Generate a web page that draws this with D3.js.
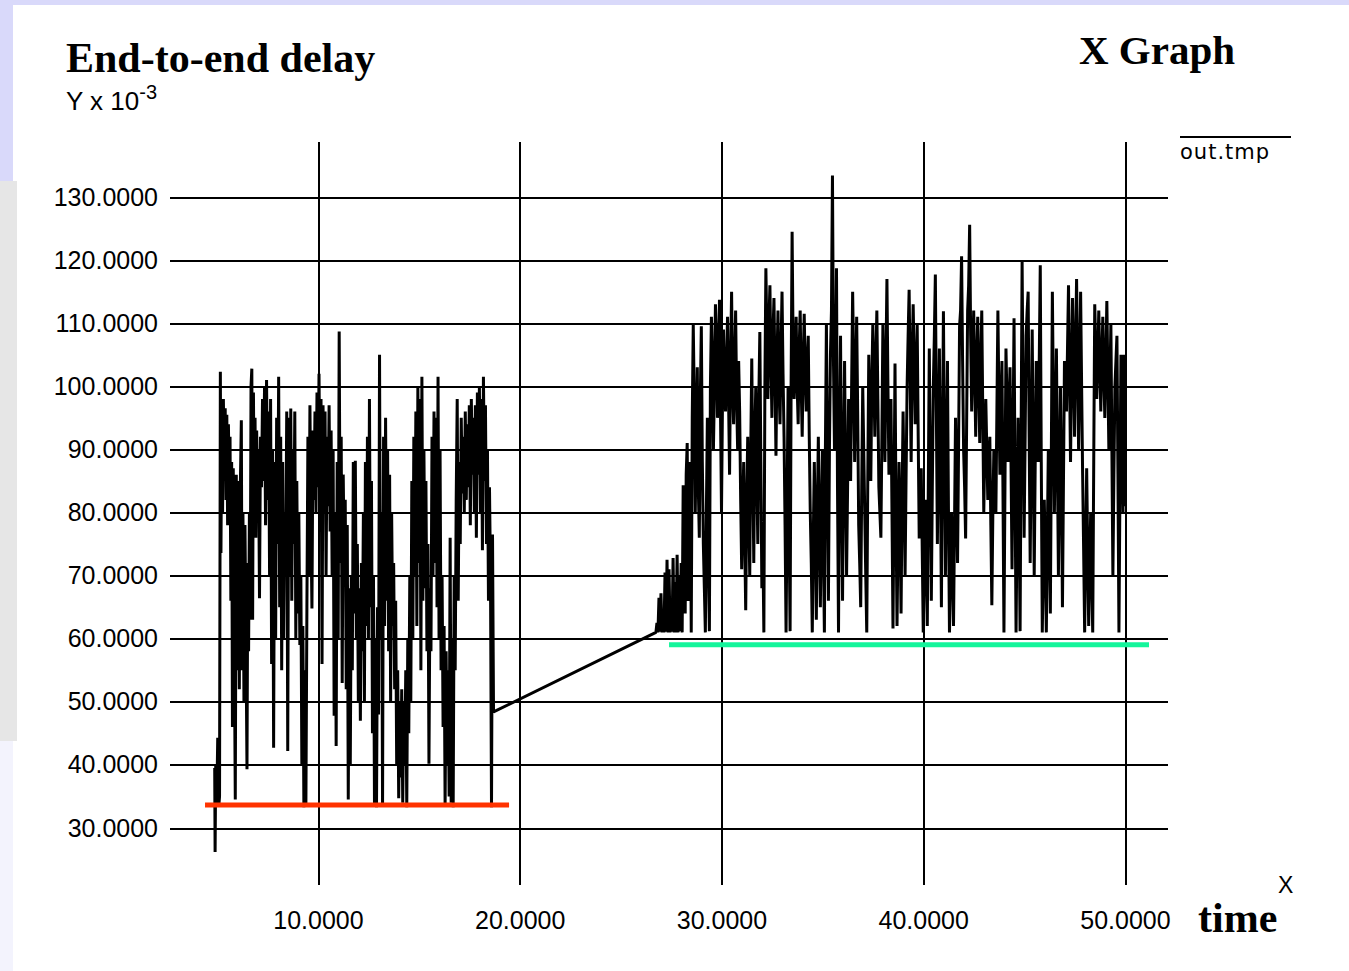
<!DOCTYPE html>
<html>
<head>
<meta charset="utf-8">
<script src="https://cdnjs.cloudflare.com/ajax/libs/d3/7.8.5/d3.min.js"></script>
<style>
  body { margin: 0; background: #fff; }
  svg { display: block; }
  .grid .tick line { stroke: #000; stroke-width: 2; shape-rendering: crispEdges; }
  .grid .tick text { font-family: "Liberation Sans", Arial, sans-serif; font-size: 25px; fill: #000; }
</style>
</head>
<body>
<script>
const width = 1349;
const height = 971;

// tick values
const yTicks = [30, 40, 50, 60, 70, 80, 90, 100, 110, 120, 130];
const xTicks = [10, 20, 30, 40, 50];

// out.tmp : [time, delay x 10^-3]
const delay = [
  [4.88, 39.5], [4.90, 26.2], [4.93, 40.0], [4.98, 33.5], [5.03, 44.3], [5.08, 33.4], [5.12, 35.0],
  [5.16, 102.3], [5.19, 73.6], [5.23, 97.5], [5.27, 80.0], [5.31, 98.0], [5.36, 85.0], [5.40, 96.5],
  [5.44, 82.0], [5.48, 95.5], [5.52, 78.0], [5.56, 94.0], [5.60, 83.0], [5.64, 92.0], [5.68, 66.0],
  [5.72, 88.0], [5.76, 46.0], [5.80, 87.0], [5.85, 60.0], [5.90, 34.5], [5.95, 86.0], [6.00, 55.0],
  [6.05, 85.0], [6.10, 52.0], [6.15, 84.0], [6.20, 94.6], [6.24, 55.0], [6.28, 80.0], [6.33, 50.0],
  [6.38, 78.0], [6.43, 60.0], [6.48, 39.3], [6.52, 72.0], [6.56, 58.0], [6.60, 80.0], [6.64, 63.0],
  [6.68, 100.0], [6.72, 102.8], [6.76, 63.0], [6.80, 99.0], [6.84, 80.0], [6.88, 95.0], [6.92, 76.0],
  [6.96, 93.0], [7.00, 84.0], [7.05, 90.0], [7.10, 66.4], [7.15, 92.0], [7.20, 84.0], [7.25, 98.0],
  [7.30, 85.0], [7.35, 100.0], [7.40, 78.0], [7.45, 101.0], [7.50, 82.0], [7.55, 96.0], [7.60, 70.0],
  [7.65, 98.0], [7.70, 56.0], [7.75, 90.0], [7.80, 42.7], [7.85, 88.0], [7.90, 60.0], [7.95, 95.0],
  [8.00, 75.0], [8.05, 101.5], [8.10, 65.0], [8.15, 92.0], [8.20, 55.0], [8.25, 88.0], [8.30, 60.0],
  [8.35, 80.0], [8.40, 72.0], [8.45, 96.0], [8.50, 42.2], [8.55, 95.0], [8.60, 70.0], [8.65, 96.5],
  [8.70, 66.0], [8.75, 90.0], [8.80, 75.0], [8.85, 96.0], [8.90, 60.0], [8.95, 85.0], [9.00, 64.0],
  [9.05, 80.0], [9.10, 59.0], [9.15, 70.0], [9.20, 40.0], [9.25, 62.0], [9.30, 33.3], [9.35, 55.0],
  [9.40, 33.5], [9.45, 65.0], [9.50, 92.0], [9.55, 70.0], [9.60, 97.0], [9.65, 78.0], [9.70, 64.8],
  [9.75, 93.0], [9.80, 82.0], [9.85, 96.0], [9.90, 80.0], [9.95, 99.0], [10.00, 84.0], [10.05, 102.0],
  [10.10, 82.0], [10.15, 98.0], [10.20, 56.0], [10.25, 97.0], [10.30, 80.0], [10.35, 96.0], [10.40, 70.0],
  [10.45, 92.0], [10.50, 81.0], [10.55, 97.0], [10.60, 77.0], [10.65, 93.0], [10.70, 70.0], [10.75, 90.0],
  [10.80, 47.8], [10.85, 80.0], [10.90, 43.0], [10.95, 88.0], [11.00, 60.0], [11.05, 108.7], [11.10, 72.0],
  [11.15, 92.0], [11.20, 53.0], [11.25, 86.0], [11.30, 71.7], [11.35, 82.0], [11.40, 52.0], [11.45, 78.0],
  [11.50, 34.5], [11.55, 68.0], [11.60, 40.0], [11.65, 70.0], [11.70, 55.0], [11.75, 88.0], [11.80, 64.0],
  [11.85, 88.2], [11.90, 60.0], [11.95, 75.0], [12.00, 50.0], [12.05, 68.0], [12.10, 47.0], [12.15, 72.0],
  [12.20, 58.0], [12.25, 80.0], [12.30, 50.0], [12.35, 88.0], [12.40, 62.0], [12.45, 92.0], [12.50, 60.0],
  [12.55, 98.0], [12.60, 65.0], [12.65, 85.0], [12.70, 45.0], [12.75, 70.0], [12.80, 33.5], [12.85, 60.0],
  [12.90, 33.3], [12.95, 65.0], [13.00, 48.0], [13.05, 105.0], [13.10, 60.0], [13.15, 80.0], [13.20, 33.4],
  [13.25, 92.0], [13.30, 62.0], [13.35, 95.0], [13.40, 66.0], [13.45, 90.0], [13.50, 58.0], [13.55, 86.0],
  [13.60, 50.0], [13.65, 80.0], [13.70, 62.0], [13.75, 72.0], [13.80, 52.0], [13.85, 66.0], [13.90, 40.0],
  [13.95, 55.0], [14.00, 34.7], [14.05, 50.0], [14.10, 38.0], [14.15, 52.0], [14.20, 34.0], [14.25, 50.0],
  [14.30, 40.0], [14.35, 55.0], [14.40, 33.3], [14.45, 60.0], [14.50, 45.0], [14.55, 70.0], [14.60, 50.0],
  [14.65, 85.0], [14.70, 60.0], [14.75, 92.0], [14.80, 70.0], [14.85, 96.0], [14.90, 62.0], [14.95, 100.0],
  [15.00, 72.0], [15.05, 98.0], [15.10, 55.0], [15.15, 101.5], [15.20, 66.0], [15.25, 90.0], [15.30, 68.0],
  [15.35, 85.0], [15.40, 58.0], [15.45, 75.0], [15.50, 40.2], [15.55, 68.0], [15.60, 58.0], [15.65, 92.0],
  [15.70, 70.0], [15.75, 96.0], [15.80, 72.0], [15.85, 95.0], [15.90, 65.0], [15.95, 101.5], [16.00, 60.0],
  [16.05, 90.0], [16.10, 55.0], [16.15, 70.0], [16.20, 46.0], [16.25, 62.0], [16.30, 33.4], [16.35, 58.0],
  [16.40, 40.0], [16.45, 55.0], [16.50, 35.0], [16.55, 76.0], [16.60, 34.0], [16.65, 60.0], [16.70, 33.3],
  [16.75, 70.0], [16.80, 55.0], [16.85, 82.0], [16.90, 98.0], [16.95, 66.0], [17.00, 88.0], [17.05, 75.0],
  [17.10, 95.0], [17.15, 83.0], [17.20, 92.0], [17.25, 80.0], [17.30, 96.0], [17.35, 82.0], [17.40, 94.0],
  [17.45, 84.0], [17.50, 97.0], [17.55, 78.0], [17.60, 98.0], [17.65, 86.0], [17.70, 95.0], [17.75, 80.0],
  [17.80, 97.0], [17.85, 76.0], [17.90, 99.0], [17.95, 86.0], [18.00, 100.0], [18.05, 80.0], [18.10, 98.0],
  [18.15, 74.0], [18.20, 101.5], [18.25, 85.0], [18.30, 97.0], [18.35, 75.0], [18.40, 90.0], [18.45, 66.0],
  [18.50, 84.0], [18.55, 70.0], [18.60, 33.3], [18.65, 76.5], [18.70, 48.4],
  // second burst
  [26.75, 61.0], [26.80, 62.5], [26.85, 61.0], [26.90, 66.5], [26.95, 61.1], [27.00, 67.2], [27.05, 61.0],
  [27.10, 64.0], [27.15, 61.0], [27.20, 70.5], [27.25, 61.1], [27.30, 72.5], [27.35, 61.0], [27.40, 71.0],
  [27.45, 61.0], [27.50, 66.0], [27.55, 61.1], [27.60, 72.8], [27.65, 61.0], [27.70, 69.0], [27.75, 61.0],
  [27.80, 73.3], [27.85, 61.0], [27.90, 70.0], [27.95, 61.2], [28.00, 72.0], [28.05, 61.0],
  [28.10, 84.3], [28.15, 70.0], [28.20, 64.0], [28.25, 86.0], [28.30, 91.0], [28.35, 66.0], [28.40, 72.0],
  [28.45, 88.0], [28.50, 61.0], [28.55, 95.0], [28.60, 109.7], [28.65, 98.0], [28.70, 80.0], [28.75, 92.0],
  [28.80, 103.0], [28.85, 84.0], [28.90, 76.0], [28.95, 98.0], [29.00, 109.5], [29.05, 88.0], [29.10, 75.0],
  [29.15, 68.0], [29.20, 61.0], [29.25, 80.0], [29.30, 95.0], [29.35, 72.0], [29.40, 61.2], [29.45, 100.0],
  [29.50, 111.0], [29.55, 104.0], [29.60, 90.0], [29.65, 100.0], [29.70, 113.0], [29.75, 108.0], [29.80, 95.0],
  [29.85, 102.0], [29.90, 113.7], [29.95, 96.0], [30.00, 80.0], [30.05, 98.0], [30.10, 109.0], [30.15, 100.0],
  [30.20, 96.0], [30.25, 104.0], [30.30, 111.0], [30.35, 98.0], [30.40, 86.0], [30.45, 104.0], [30.50, 115.0],
  [30.55, 100.0], [30.60, 94.0], [30.65, 104.0], [30.70, 112.0], [30.75, 98.0], [30.80, 90.0], [30.85, 104.0],
  [30.90, 96.0], [30.95, 82.0], [31.00, 71.0], [31.05, 80.0], [31.10, 88.0], [31.15, 76.0], [31.20, 64.5],
  [31.25, 82.0], [31.30, 92.0], [31.35, 80.0], [31.40, 70.0], [31.45, 90.0], [31.50, 104.4], [31.55, 88.0],
  [31.60, 72.0], [31.65, 92.0], [31.70, 100.0], [31.75, 86.0], [31.80, 75.0], [31.85, 98.0], [31.90, 108.6],
  [31.95, 88.0], [32.00, 68.0], [32.05, 75.0], [32.10, 61.0], [32.15, 100.0], [32.20, 118.7], [32.25, 108.0],
  [32.30, 98.0], [32.35, 110.0], [32.40, 116.0], [32.45, 104.0], [32.50, 95.0], [32.55, 108.0], [32.60, 114.0],
  [32.65, 102.0], [32.70, 89.0], [32.75, 104.0], [32.80, 112.0], [32.85, 100.0], [32.90, 94.0], [32.95, 106.0],
  [33.00, 115.0], [33.05, 102.0], [33.10, 92.0], [33.15, 78.0], [33.20, 61.0], [33.25, 80.0], [33.30, 100.0],
  [33.35, 78.0], [33.40, 61.2], [33.45, 100.0], [33.50, 124.5], [33.55, 106.0], [33.60, 98.0], [33.65, 104.0],
  [33.70, 111.0], [33.75, 100.0], [33.80, 94.0], [33.85, 106.0], [33.90, 112.0], [33.95, 100.0], [34.00, 92.0],
  [34.05, 104.0], [34.10, 111.5], [34.15, 102.0], [34.20, 96.0], [34.25, 104.0], [34.30, 108.0], [34.35, 92.0],
  [34.40, 80.0], [34.45, 72.0], [34.50, 61.0], [34.55, 76.0], [34.60, 88.0], [34.65, 78.0], [34.70, 63.0],
  [34.75, 80.0], [34.80, 92.0], [34.85, 76.0], [34.90, 65.0], [34.95, 80.0], [35.00, 90.0], [35.05, 74.0],
  [35.10, 61.0], [35.15, 90.0], [35.20, 110.0], [35.25, 86.0], [35.30, 66.0], [35.35, 90.0], [35.40, 105.0],
  [35.45, 112.0], [35.50, 133.4], [35.55, 104.0], [35.60, 90.0], [35.65, 100.0], [35.70, 118.7], [35.75, 84.0],
  [35.80, 61.0], [35.85, 90.0], [35.90, 108.0], [35.95, 84.0], [36.00, 66.0], [36.05, 88.0], [36.10, 104.0],
  [36.15, 86.0], [36.20, 70.0], [36.25, 84.0], [36.30, 98.0], [36.35, 94.0], [36.40, 85.0], [36.45, 100.0],
  [36.50, 115.0], [36.55, 104.0], [36.60, 88.0], [36.65, 100.0], [36.70, 111.0], [36.75, 96.0], [36.80, 78.0],
  [36.85, 72.0], [36.90, 65.0], [36.95, 84.0], [37.00, 100.0], [37.05, 90.0], [37.10, 80.0], [37.15, 70.0],
  [37.20, 61.0], [37.25, 85.0], [37.30, 105.0], [37.35, 96.0], [37.40, 85.0], [37.45, 100.0], [37.50, 110.0],
  [37.55, 102.0], [37.60, 92.0], [37.65, 104.0], [37.70, 112.0], [37.75, 98.0], [37.80, 84.0], [37.85, 80.0],
  [37.90, 76.0], [37.95, 92.0], [38.00, 110.0], [38.05, 100.0], [38.10, 88.0], [38.15, 104.0], [38.20, 117.0],
  [38.25, 100.0], [38.30, 86.0], [38.35, 92.0], [38.40, 98.0], [38.45, 80.0], [38.50, 61.6], [38.55, 82.0],
  [38.60, 103.6], [38.65, 80.0], [38.70, 62.0], [38.75, 76.0], [38.80, 88.0], [38.85, 78.0], [38.90, 64.0],
  [38.95, 82.0], [39.00, 96.0], [39.05, 84.0], [39.10, 70.0], [39.15, 86.0], [39.20, 100.0], [39.25, 108.0],
  [39.30, 115.3], [39.35, 102.0], [39.40, 88.0], [39.45, 104.0], [39.50, 113.0], [39.55, 104.0], [39.60, 94.0],
  [39.65, 102.0], [39.70, 109.7], [39.75, 92.0], [39.80, 75.9], [39.85, 80.0], [39.90, 87.0], [39.95, 74.0],
  [40.00, 61.0], [40.05, 72.0], [40.10, 82.0], [40.15, 72.0], [40.20, 62.0], [40.25, 84.0], [40.30, 106.0],
  [40.35, 86.0], [40.40, 66.0], [40.45, 84.0], [40.50, 100.0], [40.55, 108.0], [40.60, 117.7], [40.65, 96.0],
  [40.70, 75.0], [40.75, 92.0], [40.80, 106.0], [40.85, 86.0], [40.90, 65.0], [40.95, 90.0], [41.00, 111.9],
  [41.05, 90.0], [41.10, 70.0], [41.15, 88.0], [41.20, 104.0], [41.25, 80.0], [41.30, 61.0], [41.35, 70.0],
  [41.40, 80.0], [41.45, 72.0], [41.50, 62.0], [41.55, 78.0], [41.60, 95.0], [41.65, 84.0], [41.70, 72.0],
  [41.75, 90.0], [41.80, 109.5], [41.85, 112.0], [41.90, 120.6], [41.95, 104.0], [42.00, 90.0], [42.05, 84.0],
  [42.10, 75.9], [42.15, 94.0], [42.20, 112.0], [42.25, 116.0], [42.30, 125.6], [42.35, 108.0], [42.40, 96.0],
  [42.45, 104.0], [42.50, 112.0], [42.55, 102.0], [42.60, 92.0], [42.65, 104.0], [42.70, 111.0], [42.75, 100.0],
  [42.80, 91.0], [42.85, 104.0], [42.90, 112.0], [42.95, 96.0], [43.00, 80.0], [43.05, 90.0], [43.10, 98.0],
  [43.15, 90.0], [43.20, 82.0], [43.25, 88.0], [43.30, 92.0], [43.35, 78.0], [43.40, 65.3], [43.45, 80.0],
  [43.50, 90.0], [43.55, 85.0], [43.60, 80.0], [43.65, 96.0], [43.70, 112.0], [43.75, 98.0], [43.80, 86.0],
  [43.85, 96.0], [43.90, 104.0], [43.95, 84.0], [44.00, 61.0], [44.05, 84.0], [44.10, 106.0], [44.15, 98.0],
  [44.20, 88.0], [44.25, 96.0], [44.30, 103.0], [44.35, 88.0], [44.40, 71.0], [44.45, 92.0], [44.50, 110.8],
  [44.55, 84.0], [44.60, 61.0], [44.65, 78.0], [44.70, 95.0], [44.75, 80.0], [44.80, 61.2], [44.85, 92.0],
  [44.90, 119.8], [44.95, 98.0], [45.00, 76.0], [45.05, 92.0], [45.10, 108.0], [45.15, 112.0], [45.20, 115.0],
  [45.25, 92.0], [45.30, 72.0], [45.35, 90.0], [45.40, 109.0], [45.45, 90.0], [45.50, 70.0], [45.55, 88.0],
  [45.60, 104.0], [45.65, 96.0], [45.70, 88.0], [45.75, 104.0], [45.80, 119.2], [45.85, 88.0], [45.90, 61.0],
  [45.95, 72.0], [46.00, 82.0], [46.05, 72.0], [46.10, 61.0], [46.15, 76.0], [46.20, 90.0], [46.25, 76.0],
  [46.30, 64.0], [46.35, 90.0], [46.40, 115.0], [46.45, 98.0], [46.50, 80.0], [46.55, 92.0], [46.60, 106.0],
  [46.65, 88.0], [46.70, 70.0], [46.75, 86.0], [46.80, 100.0], [46.85, 84.0], [46.90, 65.0], [46.95, 85.0],
  [47.00, 104.0], [47.05, 100.0], [47.10, 96.0], [47.15, 106.0], [47.20, 116.0], [47.25, 102.0], [47.30, 88.0],
  [47.35, 102.0], [47.40, 114.0], [47.45, 104.0], [47.50, 92.0], [47.55, 106.0], [47.60, 117.0], [47.65, 104.0],
  [47.70, 90.0], [47.75, 102.0], [47.80, 115.0], [47.85, 100.0], [47.90, 86.0], [47.95, 74.0], [48.00, 61.0],
  [48.05, 74.0], [48.10, 87.0], [48.15, 74.0], [48.20, 62.0], [48.25, 72.0], [48.30, 80.0], [48.35, 70.0],
  [48.40, 61.0], [48.45, 88.0], [48.50, 113.0], [48.55, 106.0], [48.60, 98.0], [48.65, 104.0], [48.70, 112.0],
  [48.75, 104.0], [48.80, 96.0], [48.85, 104.0], [48.90, 111.0], [48.95, 102.0], [49.00, 95.0], [49.05, 104.0],
  [49.10, 113.5], [49.15, 102.0], [49.20, 90.0], [49.25, 100.0], [49.30, 110.0], [49.35, 90.0], [49.40, 70.0],
  [49.45, 86.0], [49.50, 100.0], [49.55, 104.0], [49.60, 108.0], [49.65, 86.0], [49.70, 61.0], [49.75, 84.0],
  [49.80, 105.0], [49.85, 92.0], [49.90, 80.0], [49.95, 105.0], [50.00, 81.0]
];

// minimum-delay markers drawn over the plot
const lowLine = [[4.40, 33.65], [19.47, 33.65]];
const highLine = [[27.40, 59.05], [51.19, 59.05]];

const svg = d3.select('body').append('svg')
    .attr('width', width)
    .attr('height', height);

// slide background strips
svg.append('rect').attr('x', 0).attr('y', 0).attr('width', width).attr('height', 5).attr('fill', '#d9d9fa');
svg.append('rect').attr('x', 0).attr('y', 0).attr('width', 13).attr('height', 181).attr('fill', '#d9d9fa');
svg.append('rect').attr('x', 0).attr('y', 181).attr('width', 17).attr('height', 560).attr('fill', '#e6e6e6');
svg.append('rect').attr('x', 0).attr('y', 741).attr('width', 13).attr('height', 230).attr('fill', '#f3f3fd');

const plotLeft = 170, plotRight = 1168, plotTop = 142, plotBottom = 885;

const xScale = d3.scaleLinear().domain([10, 50]).range([318, 1125]);
const yScale = d3.scaleLinear().domain([30, 130]).range([828, 197]);

const yAxis = d3.axisLeft(yScale)
    .tickValues(yTicks)
    .tickFormat(d3.format('.4f'))
    .tickSizeInner(-(plotRight - plotLeft))
    .tickSizeOuter(0)
    .tickPadding(12);

const xAxis = d3.axisBottom(xScale)
    .tickValues(xTicks)
    .tickFormat(d3.format('.4f'))
    .tickSizeInner(-(plotBottom - plotTop))
    .tickSizeOuter(0)
    .tickPadding(26);

svg.append('g')
    .attr('class', 'grid y-axis')
    .attr('transform', 'translate(' + plotLeft + ',0)')
    .call(yAxis)
    .call(g => g.select('.domain').remove());

svg.append('g')
    .attr('class', 'grid x-axis')
    .attr('transform', 'translate(0,' + plotBottom + ')')
    .call(xAxis)
    .call(g => g.select('.domain').remove());

const line = d3.line()
    .x(d => xScale(d[0]))
    .y(d => yScale(d[1]));

svg.append('path')
    .attr('d', line(delay))
    .attr('fill', 'none')
    .attr('stroke', '#000')
    .attr('stroke-width', 3)
    .attr('stroke-linejoin', 'bevel');

svg.append('path')
    .attr('d', line(lowLine))
    .attr('stroke', '#ff3300')
    .attr('stroke-width', 5);

svg.append('path')
    .attr('d', line(highLine))
    .attr('stroke', '#14f59b')
    .attr('stroke-width', 5);

// titles and labels
svg.append('text')
    .attr('x', 66)
    .attr('y', 72)
    .style('font-family', '"Liberation Serif", "Times New Roman", serif')
    .style('font-weight', 'bold')
    .style('font-size', '42px')
    .text('End-to-end delay');

const yLabel = svg.append('text')
    .attr('x', 66)
    .attr('y', 110)
    .style('font-family', '"Liberation Sans", Arial, sans-serif')
    .style('font-size', '26px');
yLabel.append('tspan').text('Y x 10');
yLabel.append('tspan').attr('dy', -11).style('font-size', '20px').text('-3');

svg.append('text')
    .attr('x', 1079)
    .attr('y', 64)
    .style('font-family', '"Liberation Serif", "Times New Roman", serif')
    .style('font-weight', 'bold')
    .style('font-size', '41px')
    .text('X Graph');

// legend
svg.append('line')
    .attr('x1', 1180).attr('x2', 1291)
    .attr('y1', 137).attr('y2', 137)
    .attr('stroke', '#000')
    .attr('stroke-width', 2);

svg.append('text')
    .attr('x', 1180)
    .attr('y', 159)
    .style('font-family', '"DejaVu Sans", sans-serif')
    .style('font-size', '21px')
    .style('letter-spacing', '1px')
    .text('out.tmp');

svg.append('text')
    .attr('x', 1278)
    .attr('y', 893)
    .style('font-family', '"Liberation Sans", Arial, sans-serif')
    .style('font-size', '23px')
    .text('X');

svg.append('text')
    .attr('x', 1198)
    .attr('y', 932)
    .style('font-family', '"Liberation Serif", "Times New Roman", serif')
    .style('font-weight', 'bold')
    .style('font-size', '42px')
    .text('time');
</script>
</body>
</html>
